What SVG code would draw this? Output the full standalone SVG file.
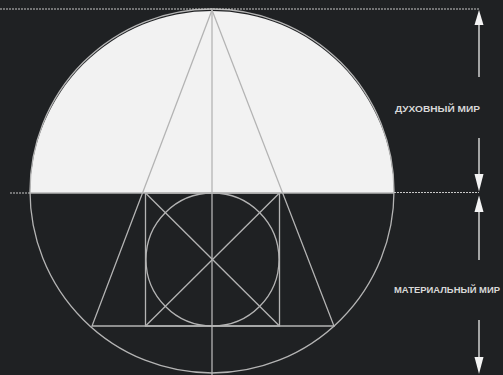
<svg xmlns="http://www.w3.org/2000/svg" width="503" height="375" viewBox="0 0 503 375">
<style>
.ln{fill:none;stroke:#b4b4b4;stroke-width:1.3}
.dash{fill:none;stroke:#c8c8c8;stroke-width:1.2;stroke-dasharray:2 1}
.dim{fill:none;stroke:#d0d0d0;stroke-width:1.5}
.ah{fill:#f4f4f4}
.lbl{font-family:"Liberation Sans",Arial,sans-serif;font-weight:bold;font-size:9.6px;fill:#d8d8d8}
</style>
<rect width="503" height="375" fill="#1f2123"/>
<g id="spiritual-half">
<path d="M30,193 A182,182 0 0 1 394,193 Z" fill="#f2f2f2"/>
</g>
<g id="outer-circle">
<circle cx="212" cy="191" r="182" class="ln"/>
</g>
<g id="triangle">
<polygon points="212,10 92,326 334,326" class="ln"/>
</g>
<g id="square">
<rect x="145.5" y="193" width="134" height="133" class="ln"/>
<line x1="145.5" y1="193" x2="279.5" y2="326" class="ln"/>
<line x1="279.5" y1="193" x2="145.5" y2="326" class="ln"/>
</g>
<g id="inner-circle">
<circle cx="212.5" cy="259.5" r="66.5" class="ln"/>
</g>
<g id="axes">
<line x1="212" y1="10" x2="212" y2="375" class="ln"/>
<line x1="30" y1="193" x2="394" y2="193" class="ln"/>
</g>
<g id="connectors">
<line x1="0" y1="9" x2="479" y2="9" class="dash"/>
<line x1="10" y1="193" x2="30" y2="193" class="dash"/>
<line x1="394" y1="192.5" x2="479" y2="192.5" class="dash"/>
<line x1="479" y1="25" x2="479" y2="77" class="dim"/>
<line x1="479" y1="138" x2="479" y2="175" class="dim"/>
<line x1="479" y1="211" x2="479" y2="260" class="dim"/>
<line x1="479" y1="320" x2="479" y2="358" class="dim"/>
<polygon points="479,10 474.5,25 483.5,25" class="ah"/>
<polygon points="479,191.5 474.5,174 483.5,174" class="ah"/>
<polygon points="479,195.5 474.5,212 483.5,212" class="ah"/>
<polygon points="479,374 474.5,357 483.5,357" class="ah"/>
</g>
<g id="label-spiritual">
<text x="395" y="112" class="lbl" textLength="85" lengthAdjust="spacingAndGlyphs">ДУХОВНЫЙ МИР</text>
</g>
<g id="label-material">
<text x="394" y="293" class="lbl" textLength="106" lengthAdjust="spacingAndGlyphs">МАТЕРИАЛЬНЫЙ МИР</text>
</g>
</svg>
